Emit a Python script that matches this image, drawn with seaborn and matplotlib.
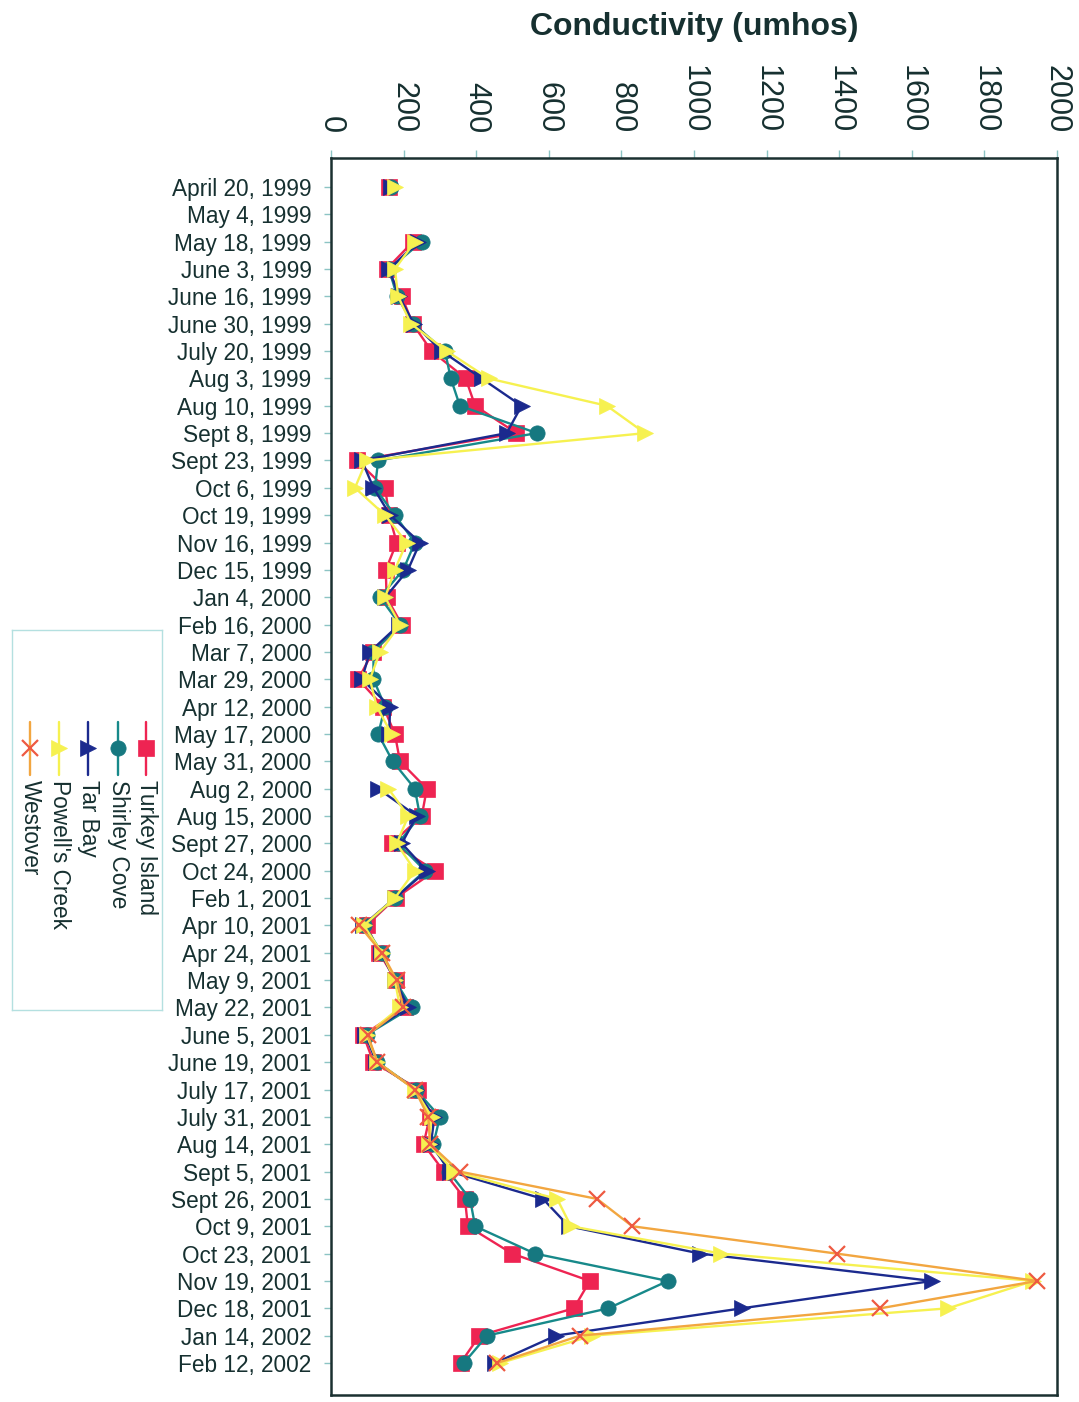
import numpy as np
import pandas as pd
import matplotlib
matplotlib.use("Agg")
import matplotlib.pyplot as plt
import seaborn as sns

nan = np.nan

dates = [
    "April 20, 1999", "May 4, 1999", "May 18, 1999", "June 3, 1999",
    "June 16, 1999", "June 30, 1999", "July 20, 1999", "Aug 3, 1999",
    "Aug 10, 1999", "Sept 8, 1999", "Sept 23, 1999", "Oct 6, 1999",
    "Oct 19, 1999", "Nov 16, 1999", "Dec 15, 1999", "Jan 4, 2000",
    "Feb 16, 2000", "Mar 7, 2000", "Mar 29, 2000", "Apr 12, 2000",
    "May 17, 2000", "May 31, 2000", "Aug 2, 2000", "Aug 15, 2000",
    "Sept 27, 2000", "Oct 24, 2000", "Feb 1, 2001", "Apr 10, 2001",
    "Apr 24, 2001", "May 9, 2001", "May 22, 2001", "June 5, 2001",
    "June 19, 2001", "July 17, 2001", "July 31, 2001", "Aug 14, 2001",
    "Sept 5, 2001", "Sept 26, 2001", "Oct 9, 2001", "Oct 23, 2001",
    "Nov 19, 2001", "Dec 18, 2001", "Jan 14, 2002", "Feb 12, 2002",
]

turkey_island = [
    160, nan, 226, 153, 195, 225, 277, 371, 397, 511,
    71, 149, 160, 181, 151, 153, 195, 115, 75, 144,
    176, 190, 264, 250, 167, 287, 178, 98, 133, 178,
    204, 89, 117, 241, 272, 255, 311, 369, 377, 499,
    713, 669, 409, 357,
]
shirley_cove = [
    165, nan, 250, 160, 182, 226, 314, 330, 355, 567,
    130, 121, 176, 231, 199, 135, 190, 117, 117, 149,
    130, 170, 231, 245, 185, 259, 176, 92, 140, 176,
    222, 98, 128, 233, 300, 282, 324, 383, 397, 562,
    928, 764, 430, 366,
]
tar_bay = [
    165, nan, 240, 160, 188, 228, 305, 415, 525, 484,
    85, 117, 163, 245, 212, 150, 188, 107, 85, 163,
    160, nan, 130, 236, 195, 264, 176, 88, 138, 176,
    213, 95, 125, 233, 285, 275, 328, 584, 655, 1017,
    1656, 1132, 619, 452,
]
powells_creek = [
    175, nan, 231, 176, 185, 220, 319, 434, 760, 865,
    98, 66, 149, 208, 176, 149, 190, 135, 107, 126,
    167, nan, 158, 213, 181, 231, 176, 90, 140, 176,
    190, 98, 128, 231, 277, 270, 340, 623, 661, 1075,
    1935, 1700, 720, 466,
]
westover = [
    nan, nan, nan, nan, nan, nan, nan, nan, nan, nan,
    nan, nan, nan, nan, nan, nan, nan, nan, nan, nan,
    nan, nan, nan, nan, nan, nan, nan, 78, 140, 181,
    199, 101, 128, 231, 268, 273, 354, 733, 830, 1393,
    1945, 1513, 686, 458,
]

sites = ["Turkey Island", "Shirley Cove", "Tar Bay", "Powell's Creek", "Westover"]
series = [turkey_island, shirley_cove, tar_bay, powells_creek, westover]
x_ticks = list(range(0, 2001, 200))

line_colors = ["#EE2452", "#17898A", "#1B2A8E", "#F6F150", "#F2A640"]
marker_colors = ["#EE2452", "#167880", "#1B2A8E", "#F6F150", "#EE5A42"]
marker_shapes = ["s", "o", ">", ">", "x"]
marker_sizes = [11, 11, 12, 12, 12]
marker_edge = [0.5, 0.5, 0.5, 0.5, 1.6]

# long-form table; a new segment starts after each missing sample so gaps stay open
rows = []
for site, vals in zip(sites, series):
    seg, gap = 0, True
    for i, v in enumerate(vals):
        if np.isnan(v):
            gap = True
            continue
        if gap:
            seg += 1
            gap = False
        rows.append({"site": site, "idx": i, "value": v, "seg": seg})
df = pd.DataFrame(rows)

sns.set_theme(style="white")
plt.rcParams["font.family"] = ["Liberation Sans", "DejaVu Sans"]

W, H = 1079, 1402
fig = plt.figure(figsize=(W / 100, H / 100), dpi=100)
fig.patch.set_facecolor("white")

ax = fig.add_axes([331 / W, 1 - 1395 / H, (1057 - 331) / W, (1395 - 158) / H])

for site, lc, mc, mk, ms, mew in zip(sites, line_colors, marker_colors,
                                     marker_shapes, marker_sizes, marker_edge):
    sub = df[df["site"] == site]
    sns.lineplot(
        data=sub, x="value", y="idx", units="seg", estimator=None, sort=False,
        color=lc, marker=mk, markersize=ms, markerfacecolor=mc,
        markeredgecolor=mc, markeredgewidth=mew, linewidth=1.7,
        ax=ax, legend=False,
    )

text_color = "#163030"
ax.set_xlim(0, 2000)
ax.set_ylim(44.17, -1.06)
ax.set_xlabel("")
ax.set_ylabel("")

ax.xaxis.tick_top()
ax.set_xticks(x_ticks)
ax.set_xticklabels([str(t) for t in x_ticks], rotation=270, color=text_color)
ax.tick_params(axis="x", top=True, bottom=False, labeltop=True, labelbottom=False,
               length=6, width=1, color="#8cc4c4", pad=12, labelsize=22)

ax.set_yticks(range(len(dates)))
ax.set_yticklabels(dates, color=text_color)
ax.tick_params(axis="y", left=True, length=5, width=1, color="#8cc4c4",
               pad=9, labelsize=16.3)

for sp in ax.spines.values():
    sp.set_color("#1a3030")
    sp.set_linewidth(1.8)

fig.text((331 + 1057) / 2 / W, 1 - 27 / H, "Conductivity (umhos)",
         ha="center", va="center", fontsize=23, fontweight="bold", color=text_color)

# legend panel with vertically oriented entries
lx0, ly0, lx1, ly1 = 12, 630, 162, 1010
lax = fig.add_axes([lx0 / W, 1 - ly1 / H, (lx1 - lx0) / W, (ly1 - ly0) / H])
lax.set_xlim(lx0, lx1)
lax.set_ylim(ly1, ly0)
lax.set_xticks([])
lax.set_yticks([])
lax.set_facecolor("white")
for sp in lax.spines.values():
    sp.set_color("#b4e0e0")
    sp.set_linewidth(1.0)

key_x = [146, 118, 88, 59, 30]
for site, kx, lc, mc, mk, ms, mew in zip(sites, key_x, line_colors, marker_colors,
                                         marker_shapes, marker_sizes, marker_edge):
    lax.plot([kx, kx], [722, 775], color=lc, linewidth=1.7)
    lax.plot([kx], [748], marker=mk, markersize=ms, markerfacecolor=mc,
             markeredgecolor=mc, markeredgewidth=mew, linestyle="none")
    lax.text(kx, 780, site, rotation=270, ha="center", va="top",
             fontsize=16.3, color=text_color)

fig.savefig("out.png", dpi=100, facecolor="white")
